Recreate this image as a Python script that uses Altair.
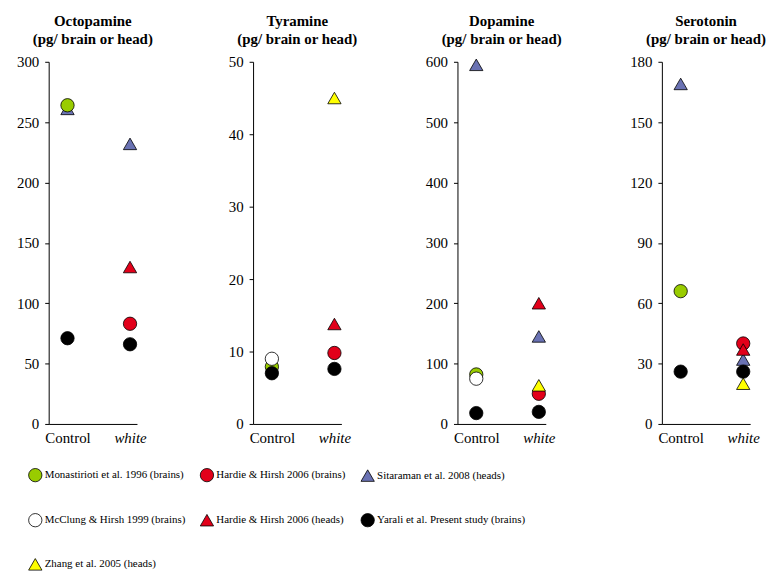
import altair as alt
import pandas as pd

transmitters = ["Octopamine", "Tyramine", "Dopamine", "Serotonin"]
units = "(pg/ brain or head)"
conditions = ["Control", "white"]

sources = [
    "Monastirioti et al. 1996 (brains)",
    "Hardie & Hirsh 2006 (brains)",
    "Sitaraman et al. 2008 (heads)",
    "McClung & Hirsh 1999 (brains)",
    "Hardie & Hirsh 2006 (heads)",
    "Yarali et al. Present study (brains)",
    "Zhang et al. 2005 (heads)",
]
source_colors = ["#99cc00", "#e2001a", "#6a72b3", "#ffffff", "#e2001a", "#000000", "#ffff00"]
source_shapes = ["circle", "circle", "triangle-up", "circle", "triangle-up", "circle", "triangle-up"]
source_sizes = [180, 180, 250, 180, 250, 180, 250]
draw_order = [
    "Sitaraman et al. 2008 (heads)",
    "Hardie & Hirsh 2006 (brains)",
    "Hardie & Hirsh 2006 (heads)",
    "Monastirioti et al. 1996 (brains)",
    "McClung & Hirsh 1999 (brains)",
    "Yarali et al. Present study (brains)",
    "Zhang et al. 2005 (heads)",
]

# (source index, condition, value)
octopamine_src = [2, 0, 2, 4, 1, 5, 5]
octopamine_cond = ["Control", "Control", "white", "white", "white", "Control", "white"]
octopamine_val = [261, 264, 232, 130, 83, 71, 66]

tyramine_src = [3, 0, 5, 6, 4, 1, 5]
tyramine_cond = ["Control", "Control", "Control", "white", "white", "white", "white"]
tyramine_val = [9.0, 7.9, 7.0, 45, 13.8, 9.8, 7.6]

dopamine_src = [2, 0, 3, 5, 4, 2, 6, 1, 5]
dopamine_cond = ["Control", "Control", "Control", "Control", "white", "white", "white", "white", "white"]
dopamine_val = [595, 82, 75, 18, 200, 145, 64, 50, 20]

serotonin_src = [2, 0, 5, 1, 4, 2, 5, 6]
serotonin_cond = ["Control", "Control", "Control", "white", "white", "white", "white", "white"]
serotonin_val = [169, 66, 26, 40, 37, 32, 26, 20]

y_max = [300, 50, 600, 180]
y_ticks = [
    [0, 50, 100, 150, 200, 250, 300],
    [0, 10, 20, 30, 40, 50],
    [0, 100, 200, 300, 400, 500, 600],
    [0, 30, 60, 90, 120, 150, 180],
]

panel_data = [
    (octopamine_src, octopamine_cond, octopamine_val),
    (tyramine_src, tyramine_cond, tyramine_val),
    (dopamine_src, dopamine_cond, dopamine_val),
    (serotonin_src, serotonin_cond, serotonin_val),
]

FONT = "Liberation Serif, Times New Roman, serif"
panels = []
for i, name in enumerate(transmitters):
    src, cond, val = panel_data[i]
    df = pd.DataFrame({
        "source": [sources[s] for s in src],
        "condition": cond,
        "value": val,
    })
    df["order"] = df["source"].map({s: k for k, s in enumerate(draw_order)})
    df = df.sort_values("order", kind="stable").reset_index(drop=True)

    legend = None
    if i == 0:
        legend = alt.Legend(
            title=None, orient="none", legendX=-21, legendY=409, columns=3,
            direction="horizontal",
            columnPadding=13, rowPadding=28.5, labelFont=FONT, labelFontSize=11,
            labelColor="black", labelOffset=2, symbolSize=130,
            symbolStrokeColor="black", symbolStrokeWidth=0.8, labelLimit=300,
        )

    chart = alt.Chart(df).mark_point(
        filled=True, stroke="black", strokeWidth=0.8, opacity=1
    ).encode(
        x=alt.X(
            "condition:N",
            sort=conditions,
            scale=alt.Scale(type="point", domain=conditions, padding=0.206, align=0.73),
            axis=alt.Axis(
                title=None, ticks=False, labelAngle=0, labelPadding=7,
                labelFont=FONT, labelFontSize=15, labelColor="black",
                domainColor="black", domainWidth=1,
                labelFontStyle={"condition": {"test": "datum.value == 'white'", "value": "italic"}, "value": "normal"},
            ),
        ),
        y=alt.Y(
            "value:Q",
            scale=alt.Scale(domain=[0, y_max[i]], nice=False, zero=True),
            axis=alt.Axis(
                title=None, values=y_ticks[i], grid=False, tickSize=4,
                labelPadding=6, labelFont=FONT, labelFontSize=15,
                labelColor="black", domainColor="black", tickColor="black",
                domainWidth=1, tickWidth=1,
            ),
        ),
        color=alt.Color("source:N", scale=alt.Scale(domain=sources, range=source_colors), legend=legend),
        shape=alt.Shape("source:N", scale=alt.Scale(domain=sources, range=source_shapes), legend=legend),
        size=alt.Size("source:N", scale=alt.Scale(domain=sources, range=source_sizes), legend=None),
        order=alt.Order("order:Q"),
    ).properties(
        width=89,
        height=365,
        title=alt.TitleParams(
            text=[name, units], font=FONT, fontSize=15, fontWeight="bold",
            lineHeight=18, anchor="middle", offset=8, color="black",
        ),
    )
    panels.append(chart)

chart = alt.hconcat(*panels, spacing=117, bounds="flush").resolve_scale(
    color="shared", shape="shared", size="shared"
).properties(
    padding={"left": 8, "top": 4, "right": 5, "bottom": 0}
).configure_view(stroke=None)

chart.save("out.html", embed_options={"renderer": "svg", "actions": False})
